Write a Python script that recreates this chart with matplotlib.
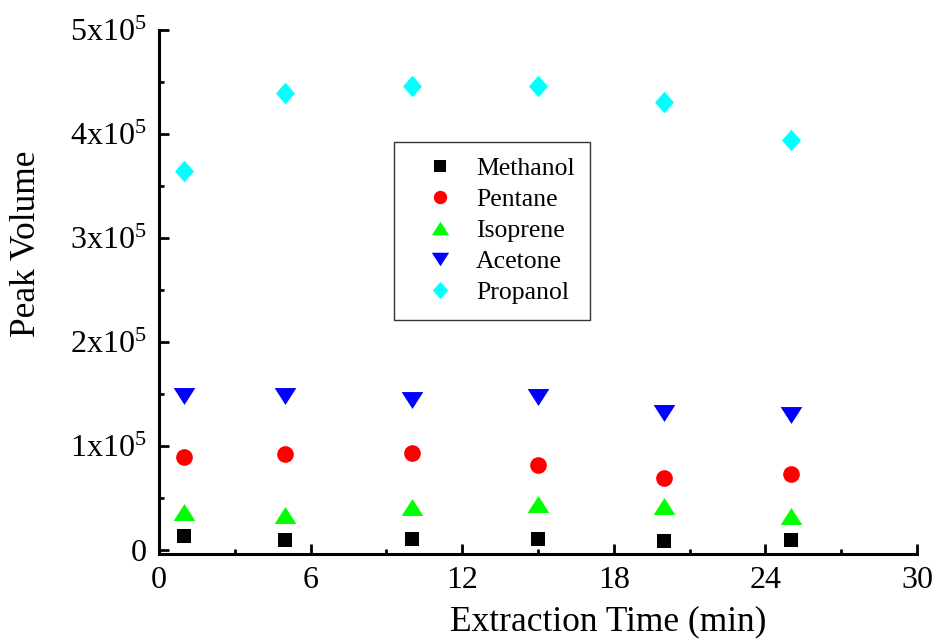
import matplotlib
matplotlib.use("Agg")
import matplotlib.pyplot as plt
from matplotlib.path import Path
from matplotlib.ticker import FixedLocator, MultipleLocator, FuncFormatter

plt.rcParams["font.family"] = "Liberation Serif"
plt.rcParams["mathtext.fontset"] = "custom"
plt.rcParams["mathtext.rm"] = "Liberation Serif"
plt.rcParams["mathtext.it"] = "Liberation Serif:italic"

# extraction time (min) and peak volumes per compound
time_min = [1, 5, 10, 15, 20, 25]
methanol = [13000, 9800, 10800, 10800, 8500, 9800]
pentane = [89000, 92000, 93000, 81400, 69000, 72600]
isoprene = [36200, 33500, 41000, 43800, 41800, 32500]
acetone = [148000, 148400, 144000, 147400, 131700, 130000]
propanol = [364700, 439000, 446000, 446500, 431000, 394000]

# wide, flat triangles and a slightly narrow diamond
tri_up = Path([(-1, -0.78), (1, -0.78), (0, 0.78), (-1, -0.78)], closed=True)
tri_dn = Path([(-1, 0.78), (1, 0.78), (0, -0.78), (-1, 0.78)], closed=True)
diamond = Path([(0, 1), (0.88, 0), (0, -1), (-0.88, 0), (0, 1)], closed=True)

series = [
    (methanol, "Methanol", "s", "black", 10.5),
    (pentane, "Pentane", "o", "red", 12),
    (isoprene, "Isoprene", tri_up, "#00ff00", 15.6),
    (acetone, "Acetone", tri_dn, "blue", 15.6),
    (propanol, "Propanol", diamond, "cyan", 15.5),
]

fig = plt.figure(figsize=(9.38, 6.4), dpi=100)
ax = fig.add_axes([159 / 938, 86 / 640, 758 / 938, 524 / 640])

for vals, name, mk, col, ms in series:
    ax.plot(time_min, vals, linestyle="none", marker=mk, color=col,
            markersize=ms, markeredgewidth=0, label=name)

ax.set_xlim(0, 30)
ax.set_ylim(-4000, 500000)
ax.xaxis.set_major_locator(MultipleLocator(6))
ax.xaxis.set_minor_locator(MultipleLocator(3))
ax.yaxis.set_major_locator(FixedLocator([0, 1e5, 2e5, 3e5, 4e5, 5e5]))
ax.yaxis.set_minor_locator(FixedLocator([5e4, 1.5e5, 2.5e5, 3.5e5, 4.5e5]))


def sci_label(v, pos):
    if v == 0:
        return "0"
    return r"$%d\mathrm{x}10^{5}$" % round(v / 1e5)


ax.yaxis.set_major_formatter(FuncFormatter(sci_label))

for side in ("top", "right"):
    ax.spines[side].set_visible(False)
for side in ("left", "bottom"):
    ax.spines[side].set_linewidth(2.2)

ax.tick_params(which="major", direction="in", length=7, width=2,
               labelsize=23, pad=9)
ax.tick_params(which="minor", direction="in", length=3.5, width=2)
ax.tick_params(axis="x", pad=9)

ax.set_xlabel("Extraction Time (min)", fontsize=25.5)
ax.set_ylabel("Peak Volume", fontsize=25.5)
ax.xaxis.set_label_coords(0.592, -0.097)
ax.yaxis.set_label_coords(-0.153, (554 - 244) / 524)

leg = ax.legend(loc="upper left", bbox_to_anchor=(235 / 758, 1 - 112 / 524),
                fontsize=18.5, markerscale=0.8, frameon=True, fancybox=False,
                edgecolor="black", handlelength=2.35, handletextpad=0.25,
                labelspacing=0.31, borderpad=0.6, borderaxespad=0)
leg.get_frame().set_linewidth(1.0)

fig.savefig("out.png", dpi=100)
